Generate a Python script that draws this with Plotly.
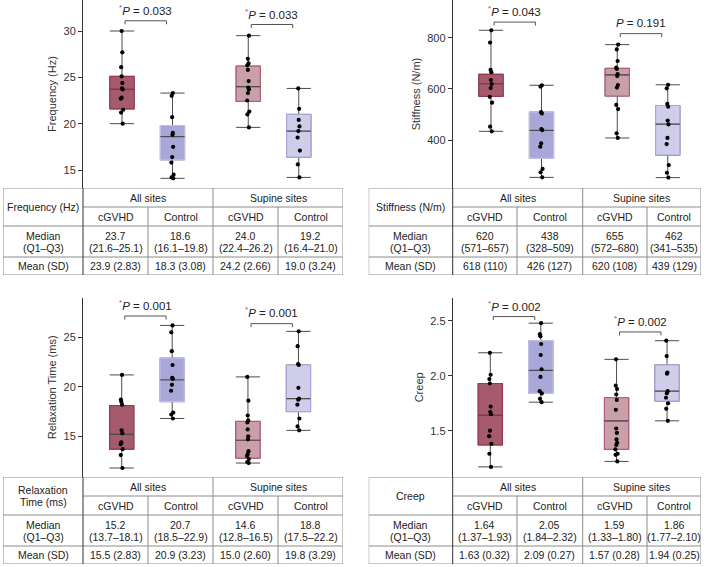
import plotly.graph_objects as go

W, H = 712, 567
FONT = "Liberation Sans, Arial, Helvetica, sans-serif"

# ---------------- data ----------------
group_labels = ["cGVHD", "Control", "cGVHD", "Control"]
site_labels = ["All sites", "Supine sites"]

freq_points = [
    [30.0, 27.7, 26.1, 25.1, 24.4, 23.8, 23.7, 22.8, 22.7, 21.5, 21.2, 20.0],
    [23.3, 23.0, 20.7, 19.0, 18.8, 17.5, 16.4, 15.8, 14.5, 14.2, 14.1],
    [29.5, 27.0, 26.5, 26.3, 25.8, 24.6, 23.9, 23.7, 23.3, 22.5, 21.3, 21.0, 19.6],
    [23.8, 21.6, 20.4, 19.7, 19.2, 18.5, 17.1, 15.6, 14.2],
]
freq_median = [23.7, 18.6, 24.0, 19.2]
freq_q1 = [21.6, 16.1, 22.4, 16.4]
freq_q3 = [25.1, 19.8, 26.2, 21.0]
freq_mean = [23.9, 18.3, 24.2, 19.0]
freq_sd = [2.83, 3.08, 2.66, 3.24]
freq_p = ["0.033", "0.033"]
freq_p_sig = [True, True]

stiff_points = [
    [829, 781, 674, 665, 635, 619, 603, 569, 546, 452, 434],
    [614, 609, 509, 504, 443, 439, 387, 374, 287, 274, 254],
    [773, 754, 709, 683, 678, 658, 650, 615, 605, 537, 521, 426, 408],
    [616, 602, 541, 530, 476, 461, 408, 384, 302, 272, 253],
]
stiff_median = [620, 438, 655, 462]
stiff_q1 = [571, 328, 572, 341]
stiff_q3 = [657, 509, 680, 535]
stiff_mean = [618, 426, 620, 439]
stiff_sd = [110, 127, 108, 129]
stiff_p = ["0.043", "0.191"]
stiff_p_sig = [True, False]

relax_points = [
    [21.2, 18.7, 18.5, 18.2, 15.6, 15.3, 14.4, 14.2, 13.7, 13.1, 11.8],
    [26.2, 25.5, 23.6, 22.2, 20.9, 20.8, 20.2, 19.6, 17.4, 17.2, 16.8],
    [21.0, 18.6, 17.1, 16.6, 16.4, 15.7, 15.0, 14.7, 13.5, 13.2, 13.0, 12.7, 12.4, 12.3],
    [25.6, 24.1, 22.3, 22.2, 19.9, 18.8, 18.7, 18.2, 16.8, 16.0, 15.6],
]
relax_median = [15.2, 20.7, 14.6, 18.8]
relax_q1 = [13.7, 18.5, 12.8, 17.5]
relax_q3 = [18.1, 22.9, 16.5, 22.2]
relax_mean = [15.5, 20.9, 15.0, 19.8]
relax_sd = [2.83, 3.23, 2.60, 3.29]
relax_p = ["0.001", "0.001"]
relax_p_sig = [True, True]

creep_points = [
    [2.21, 2.01, 1.97, 1.93, 1.72, 1.67, 1.65, 1.50, 1.45, 1.38, 1.29, 1.17],
    [2.48, 2.38, 2.36, 2.29, 2.19, 2.06, 1.99, 1.86, 1.84, 1.79, 1.76],
    [2.15, 1.91, 1.88, 1.83, 1.78, 1.69, 1.52, 1.48, 1.42, 1.39, 1.37, 1.33, 1.29, 1.28, 1.22],
    [2.32, 2.18, 2.03, 2.02, 1.86, 1.84, 1.80, 1.75, 1.70, 1.59],
]
creep_median = [1.64, 2.05, 1.59, 1.86]
creep_q1 = [1.37, 1.84, 1.33, 1.77]
creep_q3 = [1.93, 2.32, 1.80, 2.10]
creep_mean = [1.63, 2.09, 1.57, 1.94]
creep_sd = [0.32, 0.27, 0.28, 0.25]
creep_p = ["0.002", "0.002"]
creep_p_sig = [True, True]

panels = [
    dict(title="Frequency (Hz)", table_title=["Frequency (Hz)"], pts=freq_points,
         med=freq_median, q1=freq_q1, q3=freq_q3, mean=freq_mean, sd=freq_sd,
         p=freq_p, sig=freq_p_sig, vfmt="{:.1f}", sfmt="{:.2f}",
         yrange=[13.058, 33.345], dtick=5, tickformat="d",
         bracket_y=[31.1, 30.7], text_y=[32.25, 31.85]),
    dict(title="Stiffness (N/m)", table_title=["Stiffness (N/m)"], pts=stiff_points,
         med=stiff_median, q1=stiff_q1, q3=stiff_q3, mean=stiff_mean, sd=stiff_sd,
         p=stiff_p, sig=stiff_p_sig, vfmt="{:.0f}", sfmt="{:.0f}",
         yrange=[212.4, 947.4], dtick=200, tickformat="d",
         bracket_y=[861, 816], text_y=[904, 859]),
    dict(title="Relaxation Time (ms)", table_title=["Relaxation", "Time (ms)"], pts=relax_points,
         med=relax_median, q1=relax_q1, q3=relax_q3, mean=relax_mean, sd=relax_sd,
         p=relax_p, sig=relax_p_sig, vfmt="{:.1f}", sfmt="{:.2f}",
         yrange=[10.89, 29.0], dtick=5, tickformat="d",
         bracket_y=[27.15, 26.38], text_y=[28.3, 27.52]),
    dict(title="Creep", table_title=["Creep"], pts=creep_points,
         med=creep_median, q1=creep_q1, q3=creep_q3, mean=creep_mean, sd=creep_sd,
         p=creep_p, sig=creep_p_sig, vfmt="{:.2f}", sfmt="{:.2f}",
         yrange=[1.078, 2.712], dtick=0.5, tickformat=".1f",
         bracket_y=[2.54, 2.40], text_y=[2.64, 2.497]),
]

# ---------------- styles / layout geometry ----------------
positions = [1, 2, 3.5, 4.5]
fill_colors = ["#a65b6c", "#a8a7d8", "#c9a0a9", "#cfcde9"]
border_colors = ["#9b3552", "#c0bfe8", "#b55e75", "#a9a7d9"]
whisker_color = "#4d4d4d"
table_line = "#8c8c8c"
axis_color = "#333333"
text_color = "#222222"
star_color = "#b8405c"
PPU = 50.5  # px per x unit
BOX_W = 0.48

geo = [
    dict(ax_x=83, right=343, top=0, bottom=188, c1=122, tl=3, tt=188,
         cols=[0, 80, 145, 210, 275, 340]),
    dict(ax_x=452.7, right=701, top=0, bottom=188, c1=491, tl=368.7, tt=188,
         cols=[0, 84, 148.3, 214, 278.3, 332.3]),
    dict(ax_x=83, right=343, top=297.7, bottom=477, c1=121.7, tl=3, tt=477,
         cols=[0, 80, 145, 210, 275, 340]),
    dict(ax_x=452.7, right=701, top=297.7, bottom=477, c1=490.3, tl=368.7, tt=477,
         cols=[0, 84, 148.3, 214, 278.3, 332.3]),
]
rows = [0, 19, 38, 69, 87]

fig = go.Figure()
layout = dict(width=W, height=H, autosize=False,
              margin=dict(l=0, r=0, t=0, b=0),
              paper_bgcolor="white", plot_bgcolor="white",
              showlegend=False, boxmode="overlay",
              font=dict(family=FONT, color=text_color, size=11))
shapes = []
annotations = []


def xdom(l, r):
    return [l / W, r / W]


def ydom(t, b):
    return [1 - b / H, 1 - t / H]


for i, (pn, g) in enumerate(zip(panels, geo)):
    xa, ya = f"x{i + 1}", f"y{i + 1}"
    xk, yk = ("xaxis" if i == 0 else f"xaxis{i + 1}"), ("yaxis" if i == 0 else f"yaxis{i + 1}")
    x0 = 1 - (g["c1"] - g["ax_x"]) / PPU
    x1 = x0 + (g["right"] - g["ax_x"]) / PPU
    layout[xk] = dict(domain=xdom(g["ax_x"], g["right"]), range=[x0, x1], visible=False,
                      anchor=ya, fixedrange=True)
    layout[yk] = dict(domain=ydom(g["top"], g["bottom"]), range=pn["yrange"], anchor=xa,
                      showline=True, linecolor=axis_color, linewidth=1, ticks="outside",
                      ticklen=4, tickcolor=axis_color, tickwidth=1, dtick=pn["dtick"],
                      tickformat=pn["tickformat"], showgrid=False, zeroline=False,
                      tickfont=dict(size=11, color="#333"), fixedrange=True,
                      title=dict(text=pn["title"], font=dict(size=11, color="#333"), standoff=4))
    ppy = (g["bottom"] - g["top"]) / (pn["yrange"][1] - pn["yrange"][0])

    for k in range(4):
        pos = positions[k]
        pts = pn["pts"][k]
        lo, hi = min(pts), max(pts)
        # whiskers + caps
        fig.add_trace(go.Box(x=[pos], q1=[pn["q1"][k]], median=[pn["med"][k]], q3=[pn["q3"][k]],
                             lowerfence=[lo], upperfence=[hi], width=BOX_W, whiskerwidth=1,
                             fillcolor="rgba(0,0,0,0)", line=dict(color=whisker_color, width=1),
                             boxpoints=False, hoverinfo="skip", xaxis=xa, yaxis=ya))
        # coloured box
        fig.add_trace(go.Box(x=[pos], q1=[pn["q1"][k]], median=[pn["med"][k]], q3=[pn["q3"][k]],
                             lowerfence=[pn["q1"][k]], upperfence=[pn["q3"][k]], width=BOX_W,
                             whiskerwidth=0, fillcolor=fill_colors[k],
                             line=dict(color=border_colors[k], width=1.2),
                             boxpoints=False, hoverinfo="skip", xaxis=xa, yaxis=ya))
        # median line
        m = pn["med"][k]
        fig.add_trace(go.Box(x=[pos], q1=[m], median=[m], q3=[m], lowerfence=[m], upperfence=[m],
                             width=BOX_W, whiskerwidth=0, fillcolor="rgba(0,0,0,0)",
                             line=dict(color=whisker_color, width=1.2),
                             boxpoints=False, hoverinfo="skip", xaxis=xa, yaxis=ya))
        # points
        fig.add_trace(go.Box(x=[pos] * len(pts), y=pts, boxpoints="all", jitter=0.12, pointpos=0,
                             width=BOX_W, fillcolor="rgba(0,0,0,0)",
                             line=dict(color="rgba(0,0,0,0)", width=0),
                             marker=dict(color="black", size=4.2), hoverinfo="skip",
                             xaxis=xa, yaxis=ya))

    # P-value brackets
    for j in range(2):
        a = positions[2 * j] + 0.06
        b = positions[2 * j + 1] - 0.12
        yb = pn["bracket_y"][j]
        d = 3.5 / ppy
        fig.add_trace(go.Scatter(x=[a, a, b, b], y=[yb - d, yb, yb, yb - d], mode="lines",
                                 line=dict(color="#555555", width=1), hoverinfo="skip",
                                 xaxis=xa, yaxis=ya))
        star = f"<span style='color:{star_color}'><sup>*</sup></span>" if pn["sig"][j] else ""
        annotations.append(dict(xref=xa, yref=ya, x=(a + b) / 2, y=pn["text_y"][j],
                                text=f"{star}<i>P</i> = {pn['p'][j]}", showarrow=False,
                                font=dict(size=11.5, color=text_color)))

    # ---------------- table ----------------
    tx, ty = f"x{i + 5}", f"y{i + 5}"
    txk, tyk = f"xaxis{i + 5}", f"yaxis{i + 5}"
    cols = g["cols"]
    tw, th = cols[-1], rows[-1]
    layout[txk] = dict(domain=xdom(g["tl"], g["tl"] + tw), range=[0, tw], visible=False,
                       anchor=ty, fixedrange=True)
    layout[tyk] = dict(domain=ydom(g["tt"], g["tt"] + th), range=[th, 0], visible=False,
                       anchor=tx, fixedrange=True)

    def hline(y, xa0, xa1, color=table_line):
        shapes.append(dict(type="line", xref=tx, yref=ty, x0=xa0, x1=xa1, y0=y, y1=y,
                           line=dict(color=color, width=1)))

    def vline(x, y0, y1, color=table_line):
        shapes.append(dict(type="line", xref=tx, yref=ty, x0=x, x1=x, y0=y0, y1=y1,
                           line=dict(color=color, width=1)))

    hline(rows[0], cols[0], cols[5])
    hline(rows[1], cols[1], cols[5])
    hline(rows[2], cols[0], cols[5])
    hline(rows[3], cols[0], cols[5])
    hline(rows[4], cols[0], cols[5])
    vline(cols[0], rows[0], rows[4])
    vline(cols[1], rows[0], rows[4], color=axis_color)
    vline(cols[2], rows[1], rows[4])
    vline(cols[3], rows[0], rows[4])
    vline(cols[4], rows[1], rows[4])
    vline(cols[5], rows[0], rows[4])

    def cell(x, yc, lines):
        n = len(lines)
        for li, t in enumerate(lines):
            annotations.append(dict(xref=tx, yref=ty, x=x, y=yc + (li - (n - 1) / 2) * 12,
                                    text=t, showarrow=False,
                                    font=dict(size=10.5, color=text_color)))

    cell((cols[0] + cols[1]) / 2, (rows[0] + rows[2]) / 2, pn["table_title"])
    cell((cols[0] + cols[1]) / 2, (rows[2] + rows[3]) / 2, ["Median", "(Q1\u2013Q3)"])
    cell((cols[0] + cols[1]) / 2, (rows[3] + rows[4]) / 2, ["Mean (SD)"])
    cell((cols[1] + cols[3]) / 2, (rows[0] + rows[1]) / 2, [site_labels[0]])
    cell((cols[3] + cols[5]) / 2, (rows[0] + rows[1]) / 2, [site_labels[1]])
    for k in range(4):
        cx = (cols[k + 1] + cols[k + 2]) / 2
        cell(cx, (rows[1] + rows[2]) / 2, [group_labels[k]])
        vf, sf = pn["vfmt"], pn["sfmt"]
        cell(cx, (rows[2] + rows[3]) / 2,
             [vf.format(pn["med"][k]),
              "(" + vf.format(pn["q1"][k]) + "\u2013" + vf.format(pn["q3"][k]) + ")"])
        cell(cx, (rows[3] + rows[4]) / 2,
             [vf.format(pn["mean"][k]) + " (" + sf.format(pn["sd"][k]) + ")"])

layout["shapes"] = shapes
layout["annotations"] = annotations
fig.update_layout(**layout)
fig.write_html("out.html",
               config={"displayModeBar": False, "staticPlot": True},
               post_script="document.body.style.margin='0';document.body.style.padding='0';"
                           "document.body.style.overflow='hidden';")
